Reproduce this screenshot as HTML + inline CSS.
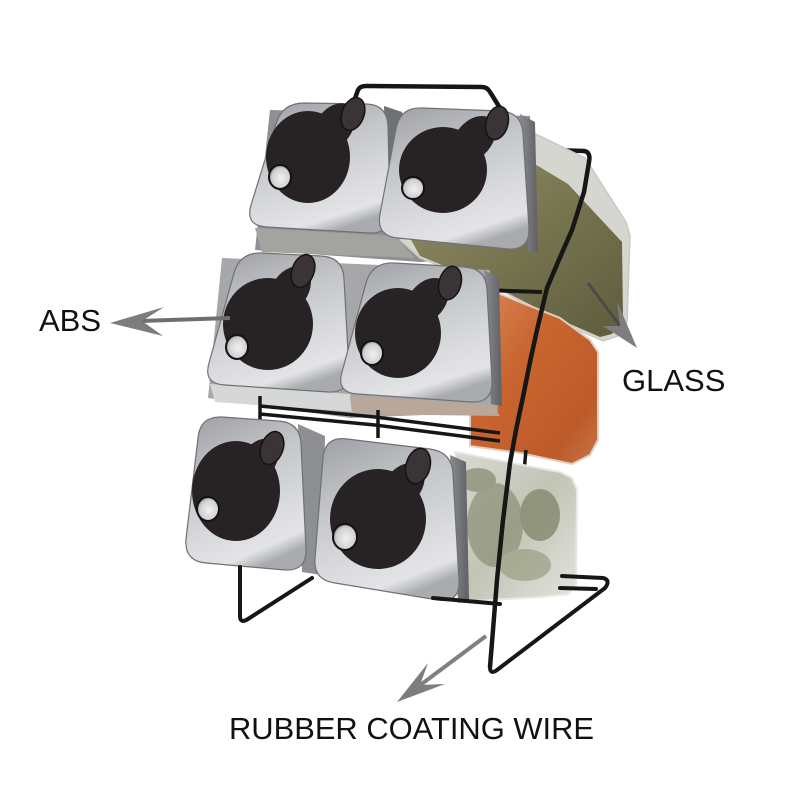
<!DOCTYPE html>
<html><head><meta charset="utf-8"><style>
html,body{margin:0;padding:0;background:#fff;}
svg{display:block;}
</style></head><body>
<svg width="799" height="800" viewBox="0 0 799 800" xmlns="http://www.w3.org/2000/svg">
<defs>
<linearGradient id="silver" x1="0.2" y1="0" x2="0.55" y2="1">
<stop offset="0" stop-color="#a2a4a9"/>
<stop offset="0.35" stop-color="#c3c5c9"/>
<stop offset="0.7" stop-color="#d9dadd"/>
<stop offset="0.9" stop-color="#e3e4e6"/>
<stop offset="1" stop-color="#a9abaf"/>
</linearGradient>
<linearGradient id="side" x1="0" y1="0" x2="1" y2="0">
<stop offset="0" stop-color="#8a8c91"/>
<stop offset="1" stop-color="#5e6065"/>
</linearGradient>
<linearGradient id="herbs" x1="0" y1="0" x2="1" y2="1">
<stop offset="0" stop-color="#908e68"/>
<stop offset="0.5" stop-color="#77744f"/>
<stop offset="1" stop-color="#5f5c3e"/>
</linearGradient>
<linearGradient id="orange" x1="0" y1="0" x2="1" y2="1">
<stop offset="0" stop-color="#d88a5c"/>
<stop offset="0.4" stop-color="#c9652f"/>
<stop offset="0.8" stop-color="#bd5a29"/>
<stop offset="1" stop-color="#c7764a"/>
</linearGradient>
<linearGradient id="glass" x1="0" y1="0" x2="1" y2="1">
<stop offset="0" stop-color="#d9dad4"/>
<stop offset="0.5" stop-color="#c2c4b6"/>
<stop offset="1" stop-color="#e4e4de"/>
</linearGradient>
<radialGradient id="hole" cx="0.55" cy="0.55" r="0.6">
<stop offset="0" stop-color="#f2f2f2"/>
<stop offset="0.7" stop-color="#d0d0d0"/>
<stop offset="1" stop-color="#7c7c7c"/>
</radialGradient>
</defs>

<!-- handle -->
<path d="M351,110 L358,90 Q360,86 366,86 L482,87 Q487,87 490,92 L500,108" fill="none" stroke="#161616" stroke-width="4.5" stroke-linejoin="round"/>

<!-- top right bracket of frame (behind jar) -->
<path d="M553,150 L584,151" fill="none" stroke="#161616" stroke-width="4.5"/>

<!-- top row backing (glass / shadow) -->
<path d="M270,110 L530,116 L536,256 L420,262 L255,250 Z" fill="#8e9094"/>
<path d="M255,228 L395,236 L415,258 L262,252 Z" fill="#a3a3a0"/>
<path d="M384,106 L402,112 L400,238 L388,236 Z" fill="#6f7175"/>

<!-- TR herbs jar -->
<path d="M515,124 L585,158 L626,222 L630,236 L627,322 L618,336 L603,341 L560,322 L500,290 L420,258 L400,240 Z" fill="#d6d6d1" stroke="#c9c9c4" stroke-width="1.5"/>
<path d="M528,160 L568,184 L622,242 L623,320 L612,334 L600,337 L556,318 L498,288 L420,256 L410,238 Z" fill="url(#herbs)"/>

<!-- TL lid -->
<path d="M304,103 L365,104 Q387,104 388,126 L390,212 Q391,234 369,233 L267,227 Q245,226 251,205 L276,124 Q282,103 304,103 Z" fill="url(#silver)" stroke="#6f7176" stroke-width="1.2"/>
<!-- TR lid side + lid -->
<path d="M520,114 L535,122 L538,252 L528,251 Z" fill="url(#side)"/>
<path d="M422,108 L500,111 Q522,112 523,134 L529,228 Q530,250 508,249 L398,238 Q376,236 380,214 L396,129 Q400,107 422,108 Z" fill="url(#silver)" stroke="#6f7176" stroke-width="1.2"/>

<!-- caps top row -->
<g fill="#272224">
<ellipse cx="308" cy="157" rx="42" ry="46"/>
<ellipse cx="334" cy="127" rx="18" ry="26" transform="rotate(35 334 127)"/>
<ellipse cx="443" cy="170" rx="44" ry="43"/>
<ellipse cx="474" cy="139" rx="18" ry="26" transform="rotate(40 474 139)"/>
</g>
<g fill="#3a3436" stroke="#151213" stroke-width="1.5">
<ellipse cx="353" cy="114" rx="11" ry="17" transform="rotate(20 353 114)"/>
<ellipse cx="497" cy="123" rx="11" ry="17" transform="rotate(15 497 123)"/>
</g>
<g fill="url(#hole)" stroke="#141112" stroke-width="2">
<ellipse cx="280" cy="177" rx="11" ry="12"/>
<ellipse cx="413" cy="188" rx="11" ry="11"/>
</g>

<!-- MR orange jar -->
<path d="M470,288 L490,290 L560,318 L590,340 L598,352 L598,440 L590,455 L572,464 L520,453 L470,446 Z" fill="url(#orange)" stroke="#e2cfc0" stroke-width="2"/>
<!-- rail between top and middle -->
<path d="M483,290 L542,292" stroke="#161616" stroke-width="4"/>

<!-- middle row backing -->
<path d="M222,258 L490,270 L498,412 L350,418 L208,398 Z" fill="#a6a7a9"/>
<path d="M210,384 L350,394 L356,412 L215,402 Z" fill="#d6d7d7"/>
<path d="M350,396 L492,404 L500,416 L352,414 Z" fill="#b9a79a"/>

<!-- ML lid -->
<path d="M262,253 L321,256 Q343,257 344,279 L349,371 Q350,393 328,392 L225,385 Q203,384 209,363 L234,273 Q240,252 262,253 Z" fill="url(#silver)" stroke="#6f7176" stroke-width="1.2"/>
<!-- MR lid side + lid -->
<path d="M484,270 L499,278 L502,406 L491,404 Z" fill="url(#side)"/>
<path d="M394,263 L464,267 Q486,268 487,290 L492,381 Q493,403 471,402 L358,394 Q336,393 342,372 L366,283 Q372,262 394,263 Z" fill="url(#silver)" stroke="#6f7176" stroke-width="1.2"/>

<!-- caps middle row -->
<g fill="#272224">
<ellipse cx="268" cy="324" rx="45" ry="46"/>
<ellipse cx="290" cy="290" rx="18" ry="26" transform="rotate(35 290 290)"/>
<ellipse cx="398" cy="333" rx="43" ry="45"/>
<ellipse cx="427" cy="301" rx="18" ry="26" transform="rotate(40 427 301)"/>
</g>
<g fill="#3a3436" stroke="#151213" stroke-width="1.5">
<ellipse cx="303" cy="271" rx="11" ry="17" transform="rotate(20 303 271)"/>
<ellipse cx="450" cy="283" rx="11" ry="17" transform="rotate(15 450 283)"/>
</g>
<g fill="url(#hole)" stroke="#141112" stroke-width="2">
<ellipse cx="237" cy="347" rx="11" ry="12"/>
<ellipse cx="372" cy="353" rx="11" ry="12"/>
</g>

<!-- rails between middle and bottom rows -->
<g fill="none" stroke="#161616" stroke-width="3.5">
<path d="M260,396 L260,420"/>
<path d="M260,406 L375,417 L500,433"/>
<path d="M260,414 L375,425 L500,441"/>
<path d="M378,410 L378,438"/>
<path d="M526,450 L524,472"/>
</g>

<!-- BR glass jar -->
<path d="M455,452 L560,472 L572,478 L577,490 L576,585 L568,594 L540,597 L460,602 Z" fill="url(#glass)" stroke="#e8e8e4" stroke-width="2"/>
<g opacity="0.75">
<ellipse cx="495" cy="525" rx="28" ry="42" fill="#8f927a"/>
<ellipse cx="540" cy="515" rx="20" ry="26" fill="#7f8468"/>
<ellipse cx="525" cy="565" rx="26" ry="16" fill="#9ea287"/>
<ellipse cx="478" cy="480" rx="18" ry="12" fill="#8a8c74"/>
</g>

<!-- bottom row backing -->
<path d="M298,424 L325,436 L322,575 L302,572 Z" fill="#8d8f93"/>

<!-- BL lid -->
<path d="M222,417 L278,421 Q300,422 301,444 L306,549 Q307,571 285,570 L206,563 Q184,561 186,539 L198,438 Q200,416 222,417 Z" fill="url(#silver)" stroke="#6f7176" stroke-width="1.2"/>
<!-- BR lid side + lid -->
<path d="M450,455 L466,462 L469,600 L458,603 Z" fill="url(#side)"/>
<path d="M347,439 L430,449 Q452,452 453,474 L459,581 Q460,603 438,600 L335,583 Q313,580 315,558 L323,458 Q325,436 347,439 Z" fill="url(#silver)" stroke="#6f7176" stroke-width="1.2"/>

<!-- caps bottom row -->
<g fill="#272224">
<ellipse cx="236" cy="491" rx="44" ry="50"/>
<ellipse cx="258" cy="462" rx="17" ry="26" transform="rotate(35 258 462)"/>
<ellipse cx="378" cy="519" rx="48" ry="50"/>
<ellipse cx="403" cy="486" rx="18" ry="26" transform="rotate(40 403 486)"/>
</g>
<g fill="#3a3436" stroke="#151213" stroke-width="1.5">
<ellipse cx="272" cy="448" rx="11" ry="17" transform="rotate(20 272 448)"/>
<ellipse cx="418" cy="466" rx="12" ry="18" transform="rotate(15 418 466)"/>
</g>
<g fill="url(#hole)" stroke="#141112" stroke-width="2">
<ellipse cx="208" cy="509" rx="11" ry="12"/>
<ellipse cx="345" cy="537" rx="12" ry="13"/>
</g>

<!-- feet and bottom rails -->
<g fill="none" stroke="#161616" stroke-width="4" stroke-linejoin="round" stroke-linecap="round">
<path d="M240,567 L240,616 Q240,624 248,619 L312,578"/>
<path d="M433,598 L500,604"/>
<path d="M562,576 L603,578 Q611,580 605,588 L497,670 Q490,675 490,667"/>
<path d="M560,588 L596,589"/>
</g>

<!-- right curved frame (front) -->
<path d="M584,151 Q591,152 589,162 L584,192 L572,230 L558,262 L547,288 L537,330 L530,362 L523,397 L516,430 L510,463 L503,520 L497,580 L493,630 L490,667" fill="none" stroke="#161616" stroke-width="4.5" stroke-linejoin="round" stroke-linecap="round"/>

<!-- arrows -->
<g fill="#7d7d7d">
<line x1="140" y1="321" x2="230" y2="318" stroke="#6e6e6e" stroke-width="4"/>
<polygon points="110,323 164,307 142,321 163,336"/>
<line x1="588" y1="283" x2="621" y2="327" stroke="#4a4a4a" stroke-width="3"/>
<polygon points="637,348 617,301 620,326 603,326"/>
<line x1="419" y1="686" x2="486" y2="636" stroke="#808080" stroke-width="4"/>
<polygon points="397,702 428,663 420,685 445,684"/>
</g>

<!-- labels -->
<g font-family="'Liberation Sans', Arial, sans-serif" fill="#111">
<text x="39" y="331" font-size="31">ABS</text>
<text x="622" y="391" font-size="31">GLASS</text>
<text x="229" y="739" font-size="30.9">RUBBER COATING WIRE</text>
</g>
</svg>
</body></html>
